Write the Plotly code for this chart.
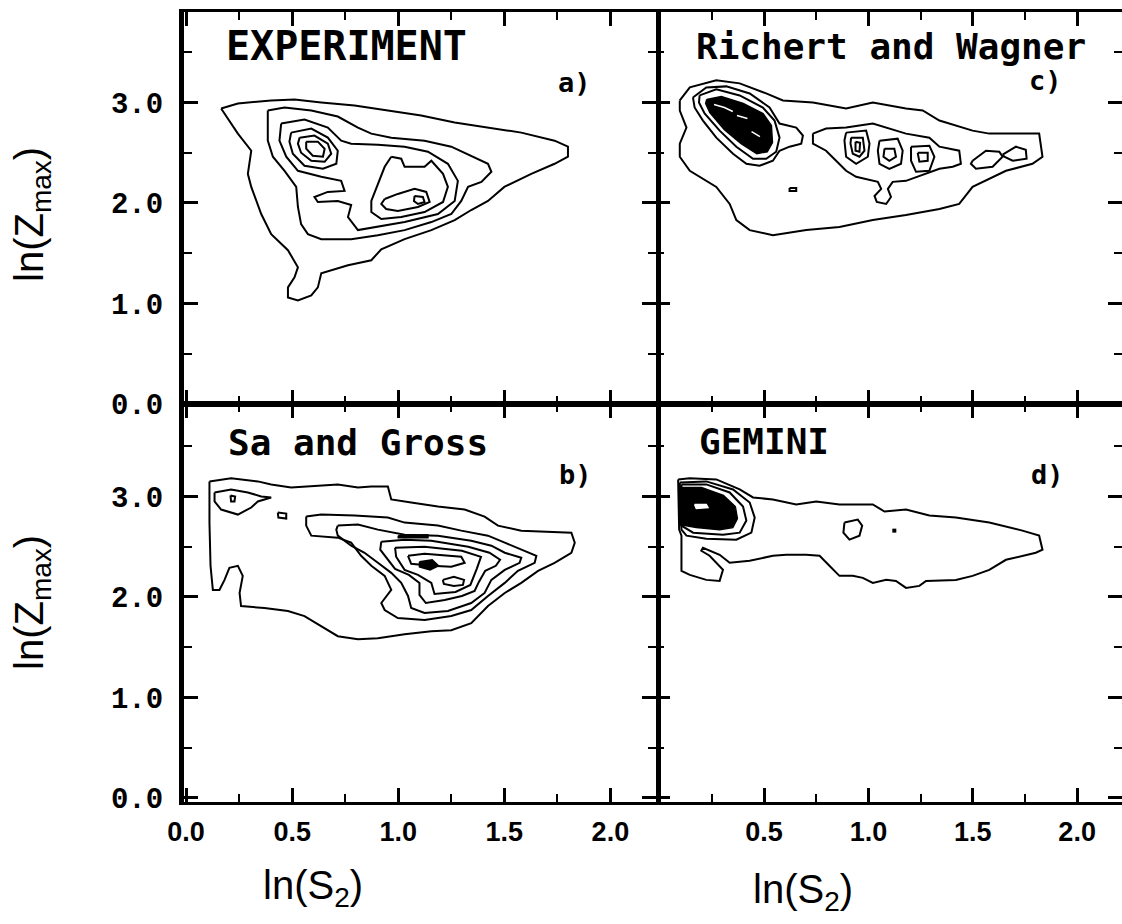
import plotly.graph_objects as go

# ---------------------------------------------------------------------------
# Contour lines of the yield in the (ln S2, ln Zmax) plane.
# Every contour is a list of (ln S2, ln Zmax) vertices; loops are closed when drawn.
# ---------------------------------------------------------------------------

# a) EXPERIMENT
EXP_LEVEL1 = [(0.165, 2.94), (0.244, 2.99), (0.401, 3.02), (0.511, 3.03), (0.637, 3.00), (0.794, 2.97),
              (0.951, 2.92), (1.108, 2.87), (1.266, 2.80), (1.423, 2.75), (1.580, 2.70), (1.737, 2.62),
              (1.800, 2.56), (1.800, 2.46), (1.737, 2.39), (1.627, 2.29), (1.500, 2.16), (1.423, 2.02),
              (1.344, 1.93), (1.266, 1.83), (1.156, 1.73), (1.030, 1.64), (0.920, 1.54), (0.873, 1.43),
              (0.763, 1.38), (0.637, 1.30), (0.621, 1.16), (0.590, 1.08), (0.527, 1.03), (0.480, 1.06),
              (0.480, 1.16), (0.511, 1.26), (0.527, 1.36), (0.480, 1.53), (0.401, 1.69), (0.354, 1.89),
              (0.307, 2.16), (0.291, 2.29), (0.307, 2.52), (0.244, 2.69)]
EXP_LEVEL2 = [(0.385, 2.92), (0.464, 2.95), (0.590, 2.92), (0.715, 2.86), (0.810, 2.75), (0.873, 2.69),
              (0.967, 2.65), (1.124, 2.62), (1.250, 2.56), (1.344, 2.47), (1.423, 2.39), (1.439, 2.31),
              (1.392, 2.21), (1.329, 2.16), (1.297, 2.02), (1.250, 1.89), (1.156, 1.81), (1.030, 1.73),
              (0.904, 1.68), (0.778, 1.64), (0.637, 1.64), (0.574, 1.69), (0.542, 1.79), (0.527, 1.96),
              (0.519, 2.16), (0.464, 2.32), (0.409, 2.46), (0.385, 2.62)]
EXP_LEVEL3 = [(0.448, 2.79), (0.558, 2.83), (0.668, 2.75), (0.731, 2.62), (0.778, 2.59), (0.904, 2.58),
              (1.030, 2.56), (1.140, 2.51), (1.234, 2.39), (1.281, 2.22), (1.266, 2.02), (1.187, 1.89),
              (1.030, 1.81), (0.904, 1.76), (0.810, 1.73), (0.763, 1.86), (0.778, 1.98), (0.715, 2.02),
              (0.621, 2.01), (0.605, 2.06), (0.668, 2.11), (0.747, 2.12), (0.731, 2.22), (0.637, 2.26),
              (0.527, 2.32), (0.472, 2.46), (0.440, 2.62)]
EXP_PEAK1_A = [(0.495, 2.70), (0.590, 2.74), (0.668, 2.65), (0.715, 2.52), (0.708, 2.39), (0.645, 2.34),
               (0.558, 2.37), (0.503, 2.49), (0.487, 2.61)]
EXP_PEAK1_B = [(0.535, 2.65), (0.605, 2.67), (0.668, 2.59), (0.684, 2.49), (0.653, 2.41), (0.590, 2.42),
               (0.542, 2.50), (0.527, 2.59)]
EXP_PEAK1_C = [(0.566, 2.61), (0.621, 2.61), (0.653, 2.54), (0.645, 2.46), (0.597, 2.47), (0.566, 2.54)]
EXP_PEAK2_A = [(0.967, 2.46), (1.014, 2.44), (1.030, 2.36), (1.124, 2.36), (1.156, 2.42), (1.211, 2.29),
               (1.234, 2.16), (1.211, 2.01), (1.124, 1.91), (1.014, 1.86), (0.920, 1.84), (0.873, 1.91),
               (0.873, 2.02), (0.904, 2.19), (0.936, 2.36)]
EXP_PEAK2_B = [(0.936, 2.04), (0.998, 2.09), (1.077, 2.14), (1.132, 2.11), (1.148, 2.01), (1.093, 1.96),
               (0.998, 1.92), (0.943, 1.94), (0.920, 1.99)]
EXP_PEAK2_C = [(1.077, 2.07), (1.116, 2.06), (1.124, 2.01), (1.093, 1.99), (1.074, 2.02)]

# b) Sa and Gross
SG_LEVEL1 = [(0.110, 3.15), (0.212, 3.18), (0.338, 3.15), (0.401, 3.12), (0.495, 3.09), (0.590, 3.10),
             (0.715, 3.12), (0.810, 3.09), (0.873, 3.10), (0.951, 3.10), (0.967, 2.97), (1.061, 2.94),
             (1.187, 2.90), (1.313, 2.87), (1.407, 2.80), (1.470, 2.71), (1.580, 2.66), (1.816, 2.64),
             (1.832, 2.54), (1.816, 2.44), (1.737, 2.34), (1.659, 2.26), (1.580, 2.14), (1.502, 2.04),
             (1.423, 1.91), (1.344, 1.74), (1.250, 1.67), (1.156, 1.66), (1.030, 1.63), (0.904, 1.59),
             (0.810, 1.58), (0.715, 1.61), (0.637, 1.71), (0.558, 1.81), (0.480, 1.86), (0.369, 1.89),
             (0.259, 1.91), (0.252, 2.04), (0.267, 2.21), (0.244, 2.31), (0.204, 2.29), (0.181, 2.17),
             (0.157, 2.07), (0.126, 2.07), (0.115, 2.31), (0.110, 2.74)]
SG_LEFT_LOOP = [(0.134, 3.04), (0.212, 3.07), (0.291, 3.04), (0.354, 3.00), (0.401, 2.99), (0.338, 2.95),
                (0.307, 2.89), (0.244, 2.82), (0.165, 2.87), (0.134, 2.95)]
SG_LEFT_CORE = [(0.209, 3.01), (0.231, 3.00), (0.228, 2.95), (0.212, 2.95)]
SG_ISLAND = [(0.432, 2.84), (0.472, 2.83), (0.472, 2.78), (0.435, 2.79)]
SG_LEVEL2 = [(0.566, 2.80), (0.637, 2.82), (0.794, 2.81), (0.951, 2.79), (1.030, 2.74), (1.187, 2.71),
             (1.297, 2.66), (1.423, 2.61), (1.502, 2.54), (1.580, 2.47), (1.651, 2.41), (1.643, 2.34),
             (1.564, 2.26), (1.502, 2.14), (1.423, 2.01), (1.344, 1.87), (1.250, 1.81), (1.124, 1.77),
             (0.998, 1.79), (0.936, 1.87), (0.920, 1.94), (0.967, 2.07), (0.936, 2.21), (0.873, 2.31),
             (0.825, 2.41), (0.778, 2.54), (0.715, 2.59), (0.590, 2.61), (0.566, 2.71)]
SG_LEVEL3 = [(0.715, 2.71), (0.810, 2.72), (0.904, 2.67), (1.030, 2.62), (1.187, 2.61), (1.344, 2.56),
             (1.439, 2.51), (1.502, 2.44), (1.580, 2.39), (1.572, 2.34), (1.502, 2.27), (1.439, 2.17),
             (1.407, 2.04), (1.344, 1.94), (1.234, 1.86), (1.124, 1.84), (1.061, 1.89), (1.046, 2.01),
             (1.014, 2.14), (0.967, 2.24), (0.904, 2.34), (0.841, 2.44), (0.778, 2.51), (0.715, 2.61),
             (0.708, 2.67)]
SG_LEVEL4 = [(0.920, 2.55), (1.030, 2.57), (1.156, 2.56), (1.330, 2.50), (1.430, 2.44), (1.480, 2.37),
             (1.460, 2.31), (1.410, 2.26), (1.380, 2.15), (1.360, 2.06), (1.300, 2.01), (1.219, 1.97),
             (1.130, 1.94), (1.100, 2.02), (1.100, 2.14), (1.050, 2.22), (0.985, 2.28), (0.950, 2.37),
             (0.915, 2.47)]
SG_LEVEL5 = [(0.985, 2.49), (1.124, 2.50), (1.300, 2.46), (1.390, 2.40), (1.370, 2.28), (1.340, 2.12),
             (1.270, 2.05), (1.171, 2.03), (1.156, 2.14), (1.093, 2.22), (1.030, 2.27), (0.990, 2.40)]
SG_CORE_A = [(1.046, 2.41), (1.124, 2.43), (1.297, 2.40), (1.313, 2.34), (1.250, 2.30), (1.156, 2.31),
             (1.061, 2.33)]
SG_CORE_B = [(1.210, 2.17), (1.262, 2.20), (1.310, 2.17), (1.305, 2.12), (1.262, 2.11), (1.215, 2.13)]
SG_DENSE_A = [(1.000, 2.61), (1.140, 2.62), (1.140, 2.59), (1.000, 2.59)]
SG_DENSE_B = [(1.100, 2.35), (1.160, 2.37), (1.190, 2.31), (1.150, 2.27), (1.100, 2.30)]

# c) Richert and Wagner
RW_LEVEL1 = [(0.096, 3.02), (0.144, 3.15), (0.271, 3.22), (0.383, 3.19), (0.510, 3.09), (0.590, 3.02),
             (0.734, 3.00), (0.893, 2.94), (1.021, 3.00), (1.180, 2.94), (1.260, 2.92), (1.340, 2.82),
             (1.499, 2.72), (1.579, 2.69), (1.818, 2.69), (1.834, 2.46), (1.786, 2.39), (1.659, 2.32),
             (1.499, 2.16), (1.435, 1.99), (1.340, 1.94), (1.180, 1.88), (1.021, 1.83), (0.861, 1.76),
             (0.702, 1.73), (0.542, 1.68), (0.431, 1.73), (0.367, 1.83), (0.335, 1.99), (0.271, 2.16),
             (0.144, 2.32), (0.096, 2.46), (0.096, 2.59), (0.128, 2.75), (0.096, 2.92)]
RW_RING_OUTER = [(0.159, 3.05), (0.223, 3.15), (0.319, 3.16), (0.431, 3.09), (0.526, 2.95), (0.574, 2.79),
                 (0.654, 2.75), (0.686, 2.67), (0.678, 2.59), (0.622, 2.56), (0.574, 2.52), (0.542, 2.42),
                 (0.478, 2.37), (0.415, 2.39), (0.351, 2.49), (0.271, 2.65), (0.207, 2.82), (0.167, 2.95)]
RW_RING_INNER = [(0.191, 3.07), (0.271, 3.13), (0.383, 3.07), (0.494, 2.95), (0.550, 2.82), (0.574, 2.65),
                 (0.558, 2.51), (0.510, 2.44), (0.447, 2.44), (0.367, 2.56), (0.287, 2.72), (0.215, 2.89),
                 (0.188, 3.00)]
RW_DENSE = [(0.225, 3.03), (0.295, 3.06), (0.400, 2.99), (0.495, 2.89), (0.535, 2.77), (0.540, 2.60),
            (0.515, 2.51), (0.465, 2.49), (0.390, 2.59), (0.310, 2.73), (0.240, 2.90), (0.220, 2.99)]
RW_GAP_1 = [(0.26, 2.98), (0.31, 2.95), (0.35, 2.91)]
RW_GAP_2 = [(0.37, 2.87), (0.42, 2.84)]
RW_GAP_3 = [(0.44, 2.71), (0.48, 2.66)]
RW_CHAIN = [(0.734, 2.69), (0.797, 2.74), (0.893, 2.75), (1.021, 2.79), (1.180, 2.69), (1.292, 2.65),
            (1.340, 2.56), (1.435, 2.52), (1.443, 2.39), (1.404, 2.36), (1.340, 2.34), (1.276, 2.29),
            (1.180, 2.22), (1.116, 2.21), (1.093, 2.14), (1.108, 2.06), (1.085, 1.99), (1.040, 2.01),
            (1.029, 2.07), (1.061, 2.14), (1.045, 2.21), (0.941, 2.26), (0.893, 2.32), (0.845, 2.42),
            (0.797, 2.52), (0.734, 2.59)]
RW_PEAK1_A = [(0.893, 2.70), (0.989, 2.72), (1.005, 2.59), (0.997, 2.46), (0.941, 2.39), (0.893, 2.46),
              (0.885, 2.62)]
RW_PEAK1_B = [(0.917, 2.65), (0.973, 2.65), (0.981, 2.52), (0.957, 2.46), (0.925, 2.49), (0.914, 2.59)]
RW_PEAK1_C = [(0.938, 2.61), (0.960, 2.60), (0.957, 2.51), (0.938, 2.52)]
RW_PEAK2_A = [(1.053, 2.62), (1.140, 2.64), (1.164, 2.52), (1.156, 2.39), (1.100, 2.34), (1.053, 2.39),
              (1.045, 2.52)]
RW_PEAK2_B = [(1.077, 2.54), (1.124, 2.54), (1.132, 2.46), (1.100, 2.42), (1.072, 2.46)]
RW_PEAK3_A = [(1.204, 2.56), (1.292, 2.57), (1.316, 2.46), (1.292, 2.32), (1.228, 2.31), (1.204, 2.42)]
RW_PEAK3_B = [(1.236, 2.50), (1.284, 2.50), (1.284, 2.42), (1.244, 2.41)]
RW_EIGHT_L = [(1.499, 2.42), (1.563, 2.52), (1.627, 2.51), (1.643, 2.46), (1.595, 2.36), (1.515, 2.34),
              (1.491, 2.39)]
RW_EIGHT_R = [(1.643, 2.48), (1.707, 2.56), (1.754, 2.53), (1.758, 2.44), (1.691, 2.42), (1.651, 2.46)]
RW_ISLAND = [(0.622, 2.15), (0.654, 2.15), (0.654, 2.12), (0.622, 2.12)]

# d) GEMINI
GE_LEVEL1 = [(0.088, 3.17), (0.144, 3.18), (0.271, 3.17), (0.383, 3.07), (0.447, 2.99), (0.542, 2.97),
             (0.654, 2.92), (0.750, 2.95), (0.861, 2.92), (1.021, 2.92), (1.077, 2.85), (1.180, 2.87),
             (1.292, 2.81), (1.419, 2.79), (1.579, 2.74), (1.738, 2.66), (1.818, 2.61), (1.834, 2.47),
             (1.802, 2.44), (1.738, 2.41), (1.659, 2.37), (1.579, 2.27), (1.499, 2.21), (1.419, 2.17),
             (1.276, 2.16), (1.244, 2.11), (1.180, 2.09), (1.132, 2.16), (1.085, 2.17), (1.021, 2.14),
             (0.973, 2.19), (0.925, 2.21), (0.861, 2.21), (0.813, 2.31), (0.766, 2.41), (0.702, 2.42),
             (0.606, 2.42), (0.542, 2.41), (0.431, 2.36), (0.335, 2.34), (0.287, 2.42), (0.207, 2.49),
             (0.199, 2.46), (0.239, 2.41), (0.303, 2.27), (0.287, 2.16), (0.223, 2.17), (0.144, 2.22),
             (0.104, 2.26), (0.104, 2.61), (0.093, 2.67)]
GE_RING_OUTER = [(0.096, 3.14), (0.223, 3.15), (0.351, 3.07), (0.431, 2.94), (0.455, 2.79), (0.439, 2.64),
                 (0.367, 2.57), (0.223, 2.58), (0.128, 2.61), (0.104, 2.67)]
GE_RING_INNER = [(0.104, 3.12), (0.223, 3.12), (0.335, 3.04), (0.399, 2.90), (0.415, 2.76), (0.383, 2.64),
                 (0.303, 2.62), (0.160, 2.64), (0.104, 2.71)]
GE_DENSE = [(0.096, 3.09), (0.200, 3.09), (0.305, 3.01), (0.362, 2.90), (0.372, 2.78), (0.350, 2.69),
            (0.287, 2.67), (0.175, 2.69), (0.096, 2.72)]
GE_GAP = [(0.167, 2.92), (0.223, 2.92), (0.231, 2.89), (0.175, 2.88)]
GE_LOOP = [(0.885, 2.74), (0.949, 2.77), (0.970, 2.71), (0.957, 2.61), (0.909, 2.57), (0.880, 2.64)]
GE_SPOT = [(1.124, 2.66)]

# Axis ranges and tick labels
X_RANGE_LEFT = [-0.01, 2.215]
X_RANGE_RIGHT = [-0.018, 2.215]
Y_RANGE_TOP = [0.0, 3.9]
Y_RANGE_BOTTOM = [-0.04, 3.92]
X_TICKS_RIGHT = [0.5, 1.0, 1.5, 2.0]

PANEL_TITLES = {"a": "EXPERIMENT", "b": "Sa and Gross", "c": "Richert and Wagner", "d": "GEMINI"}

# ---------------------------------------------------------------------------
fig = go.Figure()

AXES = {"a": ("x", "y"), "c": ("x2", "y2"), "b": ("x3", "y3"), "d": ("x4", "y4")}


def closed(pts):
    xs = [p[0] for p in pts] + [pts[0][0]]
    ys = [p[1] for p in pts] + [pts[0][1]]
    return xs, ys


def contour(panel, pts, width=2.0):
    xa, ya = AXES[panel]
    xs, ys = closed(pts)
    fig.add_trace(go.Scatter(x=xs, y=ys, xaxis=xa, yaxis=ya, mode="lines",
                             line=dict(color="black", width=width), hoverinfo="skip"))


def dense(panel, pts, color="black"):
    xa, ya = AXES[panel]
    xs, ys = closed(pts)
    fig.add_trace(go.Scatter(x=xs, y=ys, xaxis=xa, yaxis=ya, mode="lines", fill="toself",
                             fillcolor=color, line=dict(color=color, width=1.5), hoverinfo="skip"))


def stroke(panel, pts, color="white", width=1.5):
    xa, ya = AXES[panel]
    fig.add_trace(go.Scatter(x=[p[0] for p in pts], y=[p[1] for p in pts], xaxis=xa, yaxis=ya,
                             mode="lines", line=dict(color=color, width=width), hoverinfo="skip"))


for c in [EXP_LEVEL1, EXP_LEVEL2, EXP_LEVEL3, EXP_PEAK1_A, EXP_PEAK1_B, EXP_PEAK1_C,
          EXP_PEAK2_A, EXP_PEAK2_B, EXP_PEAK2_C]:
    contour("a", c)

for c in [SG_LEVEL1, SG_LEFT_LOOP, SG_LEFT_CORE, SG_ISLAND, SG_LEVEL2, SG_LEVEL3, SG_LEVEL4,
          SG_LEVEL5, SG_CORE_A, SG_CORE_B]:
    contour("b", c)
dense("b", SG_DENSE_A)
dense("b", SG_DENSE_B)

for c in [RW_LEVEL1, RW_RING_OUTER, RW_RING_INNER, RW_CHAIN, RW_PEAK1_A, RW_PEAK1_B, RW_PEAK1_C,
          RW_PEAK2_A, RW_PEAK2_B, RW_PEAK3_A, RW_PEAK3_B, RW_EIGHT_L, RW_EIGHT_R, RW_ISLAND]:
    contour("c", c)
dense("c", RW_DENSE)
for g in [RW_GAP_1, RW_GAP_2, RW_GAP_3]:
    stroke("c", g)

for c in [GE_LEVEL1, GE_RING_OUTER, GE_RING_INNER, GE_LOOP]:
    contour("d", c)
dense("d", GE_DENSE)
dense("d", GE_GAP, color="white")
fig.add_trace(go.Scatter(x=[p[0] for p in GE_SPOT], y=[p[1] for p in GE_SPOT], xaxis="x4", yaxis="y4",
                         mode="markers", marker=dict(color="black", size=4, symbol="square"),
                         hoverinfo="skip"))

# ---------------------------------------------------------------------------
# Layout: four panels sharing their borders, ticks pointing inwards on every side
W, H = 1122, 924
ML, MR, MT, MB = 184, 0, 12, 122
PW, PH = W - ML - MR, H - MT - MB
X_SPLIT = (656 - ML) / PW
Y_SPLIT = (802 - 404) / PH

XTICK_FONT = dict(family="Liberation Sans, Arial, sans-serif", size=27, color="black", weight="bold")
YTICK_FONT = dict(family="Liberation Mono, Courier New, monospace", size=29, color="black", weight="bold")


def axis_style(major, minor, lw):
    return dict(showline=True, linewidth=lw, linecolor="black", mirror="allticks",
                ticks="inside", ticklen=14, tickwidth=2.5, tickcolor="black",
                showgrid=False, zeroline=False, tick0=0, dtick=major, tickformat=".1f",
                minor=dict(ticks="inside", ticklen=8, tickwidth=2, tickcolor="black",
                           tick0=0, dtick=minor, showgrid=False))


xa = axis_style(0.5, 0.25, 3)
ya = axis_style(1.0, 0.5, 5)

fig.update_layout(
    width=W, height=H, margin=dict(l=ML, r=MR, t=MT, b=MB, pad=0),
    paper_bgcolor="white", plot_bgcolor="white", showlegend=False,
    xaxis=dict(xa, domain=[0, X_SPLIT], range=X_RANGE_LEFT, anchor="y", showticklabels=False),
    yaxis=dict(ya, domain=[Y_SPLIT, 1], range=Y_RANGE_TOP, anchor="x", tickfont=YTICK_FONT,
               ticklabelstandoff=10),
    xaxis2=dict(xa, domain=[X_SPLIT, 1], range=X_RANGE_RIGHT, anchor="y2", showticklabels=False),
    # the right-hand frame of the right panels runs off the page: ticks only
    yaxis2=dict(ya, domain=[Y_SPLIT, 1], range=Y_RANGE_TOP, anchor="x2", showticklabels=False,
                showline=False),
    xaxis3=dict(xa, domain=[0, X_SPLIT], range=X_RANGE_LEFT, anchor="y3", tickfont=XTICK_FONT,
                ticklabelstandoff=4),
    yaxis3=dict(ya, domain=[0, Y_SPLIT], range=Y_RANGE_BOTTOM, anchor="x3", tickfont=YTICK_FONT,
                ticklabelstandoff=10),
    xaxis4=dict(xa, domain=[X_SPLIT, 1], range=X_RANGE_RIGHT, anchor="y4", tickfont=XTICK_FONT,
                tickmode="array", tickvals=X_TICKS_RIGHT, ticklabelstandoff=4),
    yaxis4=dict(ya, domain=[0, Y_SPLIT], range=Y_RANGE_BOTTOM, anchor="x4", showticklabels=False,
                showline=False),
)


def px(xp):
    return (xp - ML) / PW


def py(yp):
    return (H - MB - yp) / PH


LABEL_FONT = dict(family="DejaVu Sans Mono, monospace", size=36, color="black", weight="bold")
CAPS_FONT = dict(LABEL_FONT, size=40)
TAG_FONT = dict(family="DejaVu Sans Mono, monospace", size=27, color="black", weight="bold")
TITLE_FONT = dict(family="Liberation Sans, Arial, sans-serif", size=40, color="black")

notes = [
    (PANEL_TITLES["a"], 224, 46, CAPS_FONT), ("a)", 556, 82, TAG_FONT),
    (PANEL_TITLES["c"], 694, 46, LABEL_FONT), ("c)", 1027, 80, TAG_FONT),
    (PANEL_TITLES["b"], 226, 442, LABEL_FONT), ("b)", 557, 474, TAG_FONT),
    (PANEL_TITLES["d"], 697, 441, LABEL_FONT), ("d)", 1029, 474, TAG_FONT),
]
for text, x0, y0, font in notes:
    fig.add_annotation(text=text, xref="paper", yref="paper", x=px(x0), y=py(y0),
                       xanchor="left", yanchor="middle", showarrow=False, font=font)

for yc in (215, 603):
    fig.add_annotation(text="ln(Z<sub>max</sub>)", xref="paper", yref="paper", x=px(32), y=py(yc),
                       xanchor="center", yanchor="middle", textangle=-90, showarrow=False,
                       font=TITLE_FONT)
for xc, yc in ((313, 888), (803, 892)):
    fig.add_annotation(text="ln(S<sub>2</sub>)", xref="paper", yref="paper", x=px(xc), y=py(yc),
                       xanchor="center", yanchor="middle", showarrow=False, font=TITLE_FONT)

fig.write_html("out.html")
